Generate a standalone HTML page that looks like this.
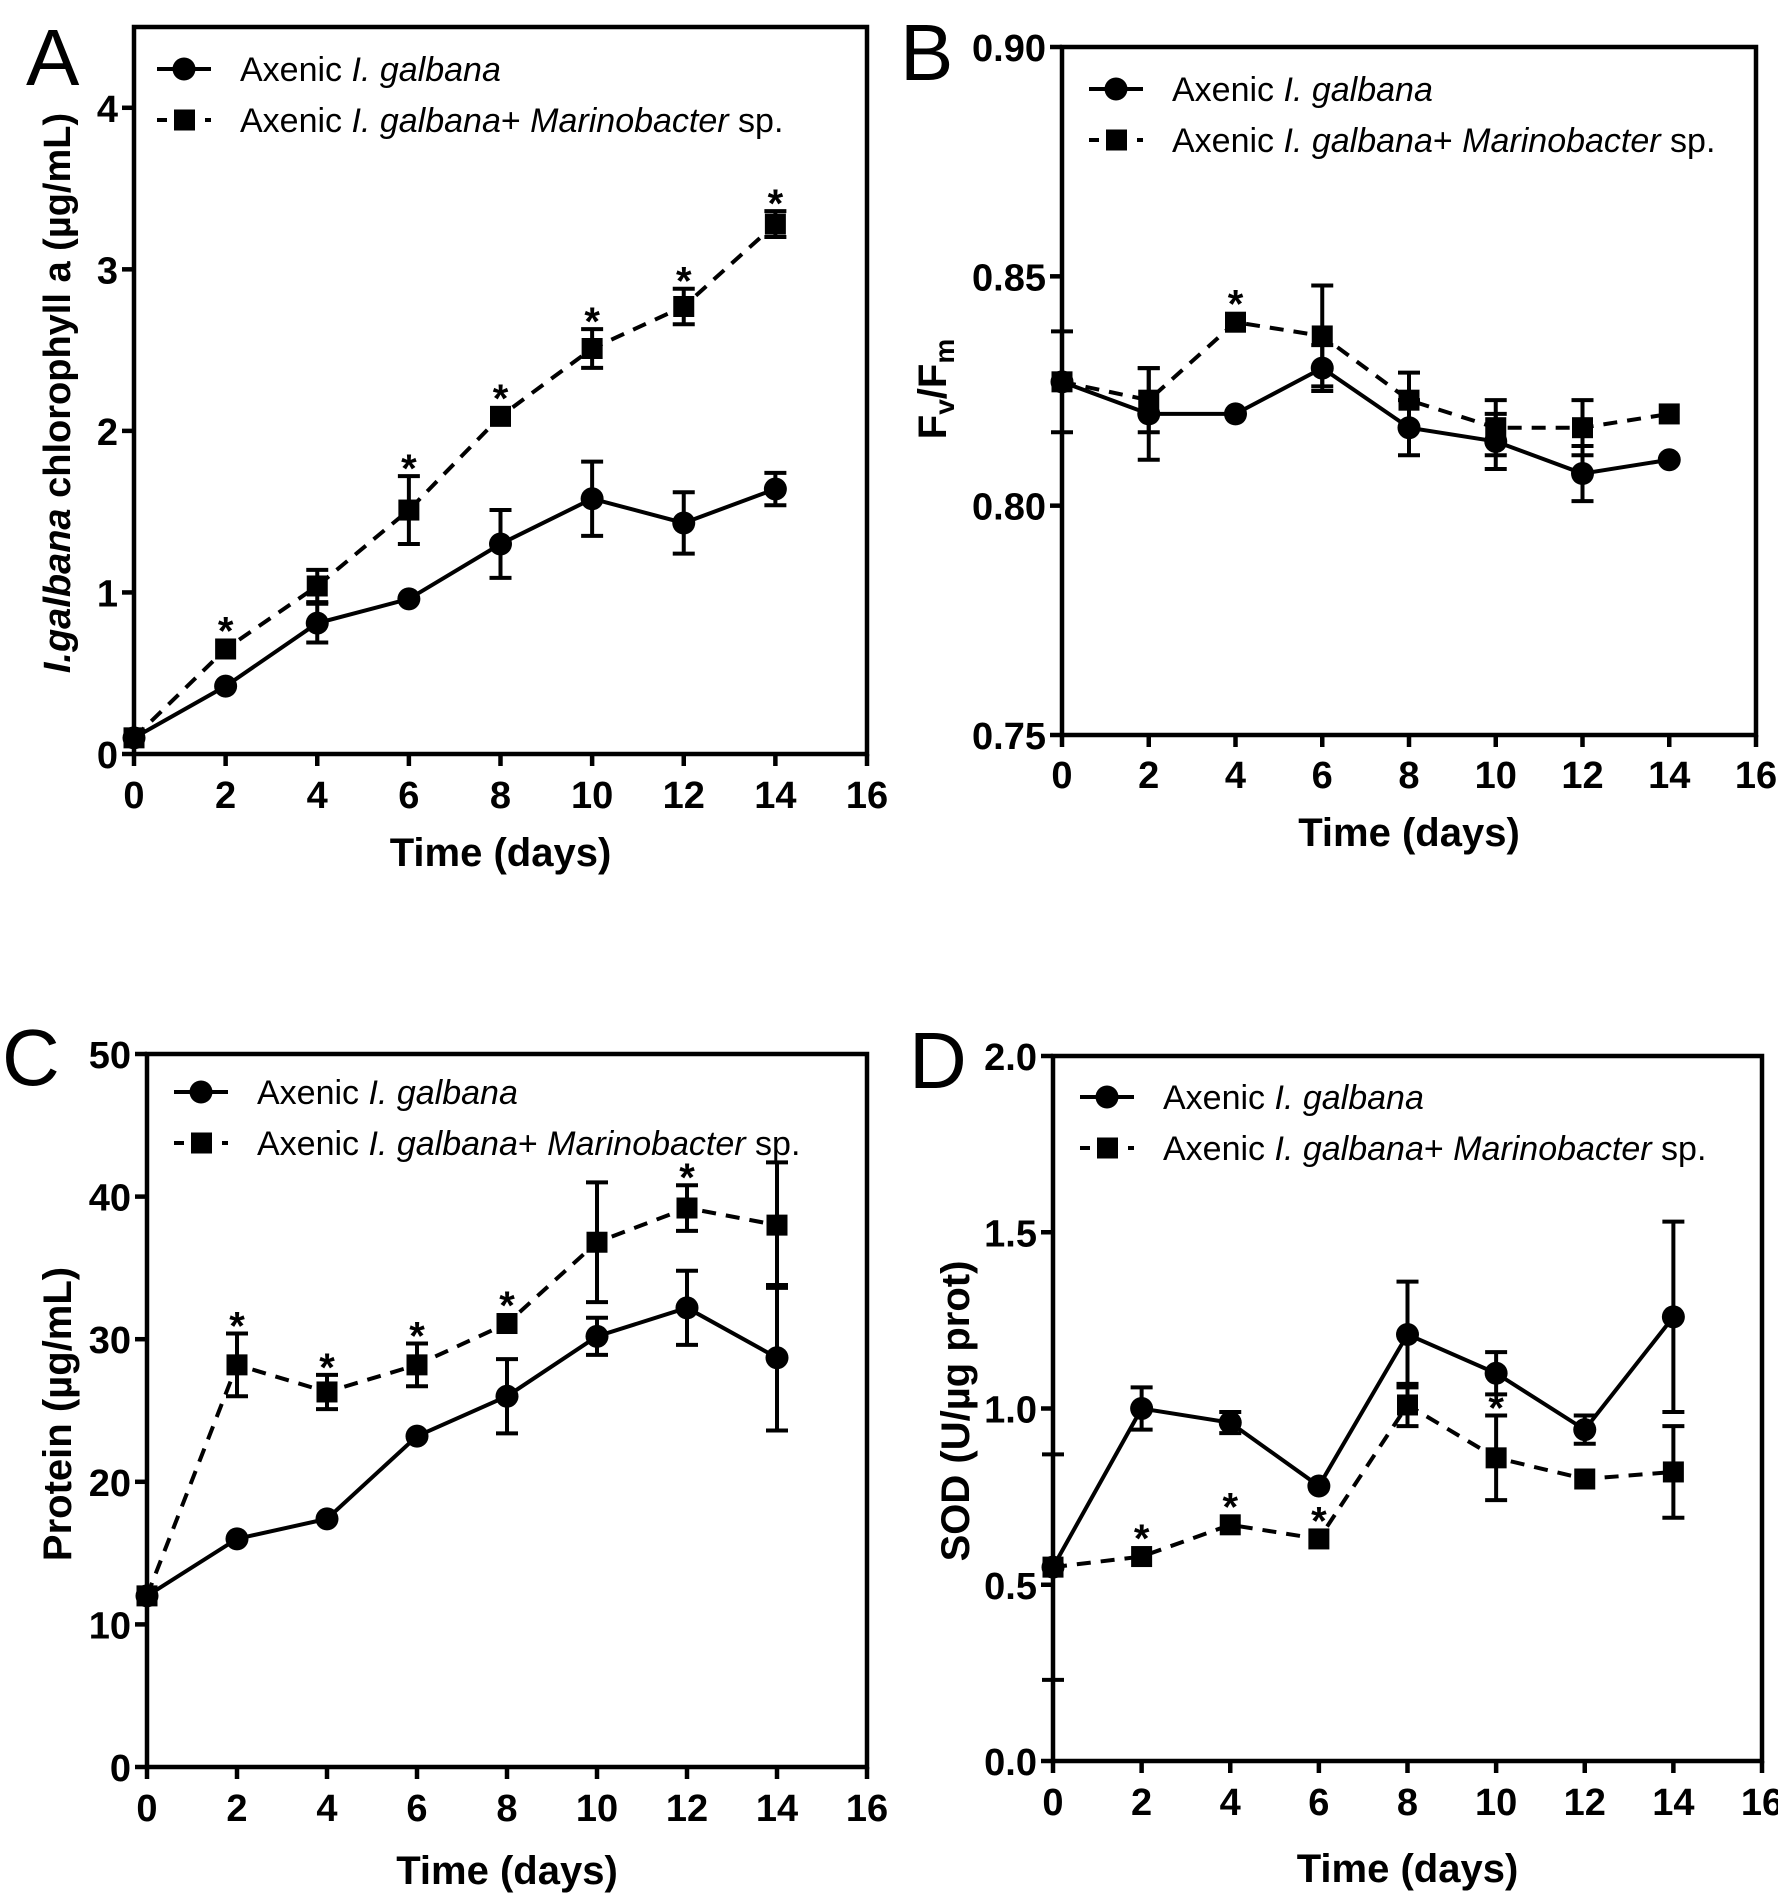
<!DOCTYPE html>
<html><head><meta charset="utf-8"><style>
body{margin:0;background:#fff}
svg{display:block}
text{font-family:"Liberation Sans",Arial,sans-serif;fill:#000}
</style></head><body>
<svg id="fig" width="1778" height="1894" viewBox="0 0 1778 1894" xmlns="http://www.w3.org/2000/svg"></svg>
<script>
const days = [0,2,4,6,8,10,12,14];
const xTicks = [0,2,4,6,8,10,12,14,16];
// Panel A
const aCircle = [0.1,0.42,0.81,0.96,1.30,1.58,1.43,1.64];
const aCircleErr = [0,0,0.12,0,0.21,0.23,0.19,0.1];
const aSquare = [0.1,0.65,1.04,1.51,2.09,2.51,2.77,3.28];
const aSquareErr = [0,0,0.1,0.21,0,0.12,0.11,0.08];
const aStars = [2,6,8,10,12,14];
const aYTicks = [0,1,2,3,4];
// Panel B
const bCircle = [0.827,0.820,0.820,0.830,0.817,0.814,0.807,0.810];
const bCircleErr = [0,0.01,0,0.005,0.006,0.006,0.006,0];
const bSquare = [0.827,0.823,0.840,0.837,0.823,0.817,0.817,0.820];
const bSquareErr = [0.011,0.007,0,0.011,0.006,0.006,0.006,0];
const bStars = [4];
const bYTicks = [0.75,0.80,0.85,0.90];
// Panel C
const cCircle = [12,16,17.4,23.2,26,30.2,32.2,28.7];
const cCircleErr = [0,0,0,0,2.6,1.3,2.6,5.1];
const cSquare = [12,28.2,26.3,28.2,31.1,36.8,39.2,38];
const cSquareErr = [0,2.2,1.2,1.5,0,4.2,1.6,4.4];
const cStars = [2,4,6,8,12];
const cYTicks = [0,10,20,30,40,50];
// Panel D
const dCircle = [0.55,1.0,0.96,0.78,1.21,1.10,0.94,1.26];
const dCircleErr = [0.32,0.06,0.03,0,0.15,0.06,0.04,0.27];
const dSquare = [0.55,0.58,0.67,0.63,1.01,0.86,0.80,0.82];
const dSquareErr = [0,0,0,0,0.06,0.12,0,0.13];
const dStars = [2,4,6,10];
const dYTicks = [0.0,0.5,1.0,1.5,2.0];

const NS="http://www.w3.org/2000/svg";
const svg=document.getElementById('fig');
function mk(tag,attrs,parent,txt){const e=document.createElementNS(NS,tag);for(const k in attrs)e.setAttribute(k,attrs[k]);if(txt!==undefined)e.textContent=txt;(parent||svg).appendChild(e);return e;}

const panels=[
 {id:'a',L:134,R:867,T:27,B:754,ymin:0,ymax:4.5,yt:aYTicks,dec:0,c:aCircle,ce:aCircleErr,s:aSquare,se:aSquareErr,st:aStars,
  letter:'A',lx:26,ly:85,tickY:808,titleY:866,ytx:56,yty:393,legX:157,legY:69,yTitle:'chl'},
 {id:'b',L:1062,R:1756,T:47,B:735,ymin:0.75,ymax:0.90,yt:bYTicks,dec:2,c:bCircle,ce:bCircleErr,s:bSquare,se:bSquareErr,st:bStars,
  letter:'B',lx:900,ly:80,tickY:788,titleY:846,ytx:932,yty:389,legX:1089,legY:89,yTitle:'fvfm'},
 {id:'c',L:147,R:867,T:1054,B:1767,ymin:0,ymax:50,yt:cYTicks,dec:0,c:cCircle,ce:cCircleErr,s:cSquare,se:cSquareErr,st:cStars,
  letter:'C',lx:2,ly:1085,tickY:1821,titleY:1884,ytx:57,yty:1414,legX:174,legY:1092,yTitle:'Protein (µg/mL)'},
 {id:'d',L:1053,R:1762,T:1056,B:1761,ymin:0,ymax:2,yt:dYTicks,dec:1,c:dCircle,ce:dCircleErr,s:dSquare,se:dSquareErr,st:dStars,
  letter:'D',lx:909,ly:1088,tickY:1815,titleY:1882,ytx:955,yty:1411,legX:1080,legY:1097,yTitle:'SOD (U/µg prot)'}
];

panels.forEach(p=>{
 const g=mk('g',{});
 
 
 const X=v=>p.L+(v/16)*(p.R-p.L);
 const Y=v=>p.B-(v-p.ymin)/(p.ymax-p.ymin)*(p.B-p.T);
 const frame=mk('rect',{x:p.L,y:p.T,width:p.R-p.L,height:p.B-p.T,fill:'none',stroke:'#000','stroke-width':4.5},g);
 
 
 const lt=mk('text',{x:p.lx,y:p.ly,'font-size':80},g,p.letter);
 
 
 xTicks.forEach(t=>{
  mk('line',{x1:X(t),x2:X(t),y1:p.B,y2:p.B+12,stroke:'#000','stroke-width':4.5},g);
  const tx=mk('text',{x:X(t),y:p.tickY,'font-size':38,'font-weight':'bold','text-anchor':'middle'},g,String(t));
  
  
 });
 p.yt.forEach(t=>{
  mk('line',{x1:p.L-12,x2:p.L,y1:Y(t),y2:Y(t),stroke:'#000','stroke-width':4.5},g);
  const ty=mk('text',{x:p.L-16,y:Y(t)+14,'font-size':38,'font-weight':'bold','text-anchor':'end'},g,t.toFixed(p.dec));
  
  
 });
 const xt=mk('text',{x:(p.L+p.R)/2,y:p.titleY,'font-size':40,'font-weight':'bold','text-anchor':'middle'},g,'Time (days)');
 
 
 const yt=mk('text',{x:0,y:0,'font-size':p.yTitle==='chl'?38:40,'font-weight':'bold','text-anchor':'middle',transform:`translate(${p.ytx+14},${p.yty}) rotate(-90)`},g);
 
 
 if(p.yTitle==='chl'){
  mk('tspan',{'font-style':'italic'},yt,'I.galbana');
  mk('tspan',{},yt,' chlorophyll a (µg/mL)');
 } else if(p.yTitle==='fvfm'){
  mk('tspan',{},yt,'F');
  mk('tspan',{'font-size':28,dy:8},yt,'v');
  mk('tspan',{dy:-8},yt,'/F');
  mk('tspan',{'font-size':28,dy:8},yt,'m');
 } else yt.textContent=p.yTitle;
 const lineC=days.map((d,i)=>X(d)+','+Y(p.c[i])).join(' ');
 const lineS=days.map((d,i)=>X(d)+','+Y(p.s[i])).join(' ');
 const ls=mk('polyline',{points:lineS,fill:'none',stroke:'#000','stroke-width':4,'stroke-dasharray':'14,10'},g);
 
 
 const lc=mk('polyline',{points:lineC,fill:'none',stroke:'#000','stroke-width':4},g);
 
 
 function err(x,v,e){
  if(!e)return;
  const y1=Y(v+e),y2=Y(v-e);
  mk('line',{x1:x,x2:x,y1:y1,y2:y2,stroke:'#000','stroke-width':4},g);
  mk('line',{x1:x-11,x2:x+11,y1:y1,y2:y1,stroke:'#000','stroke-width':4},g);
  mk('line',{x1:x-11,x2:x+11,y1:y2,y2:y2,stroke:'#000','stroke-width':4},g);
 }
 days.forEach((d,i)=>{
  err(X(d),p.c[i],p.ce[i]);err(X(d),p.s[i],p.se[i]);
  const cc=mk('circle',{cx:X(d),cy:Y(p.c[i]),r:11.5,fill:'#000'},g);
  
  
  const sq=mk('rect',{x:X(d)-10.5,y:Y(p.s[i])-10.5,width:21,height:21,fill:'#000'},g);
  
  
 });
 p.st.forEach(d=>{
  const i=days.indexOf(d);
  const cap=p.se[i]?Y(p.s[i]+p.se[i]):Y(p.s[i])-10.5;
  const s=mk('text',{x:X(d),y:cap+6,'font-size':40,'font-weight':'bold','text-anchor':'middle'},g,'*');
  
  
 });
 const lg=mk('g',{},g);
 
 
 const lx=p.legX,ly=p.legY;
 mk('line',{x1:lx,x2:lx+54,y1:ly,y2:ly,stroke:'#000','stroke-width':4},lg);
 mk('circle',{cx:lx+27,cy:ly,r:11.5,fill:'#000'},lg);
 const t1=mk('text',{x:lx+83,y:ly+12,'font-size':34},lg);
 
 
 mk('tspan',{},t1,'Axenic ');mk('tspan',{'font-style':'italic'},t1,'I. galbana');
 const ly2=ly+51;
 mk('line',{x1:lx,x2:lx+10,y1:ly2,y2:ly2,stroke:'#000','stroke-width':4},lg);
 mk('rect',{x:lx+17,y:ly2-10.5,width:21,height:21,fill:'#000'},lg);
 mk('line',{x1:lx+48,x2:lx+54,y1:ly2,y2:ly2,stroke:'#000','stroke-width':4},lg);
 const t2=mk('text',{x:lx+83,y:ly2+12,'font-size':34},lg);
 
 
 mk('tspan',{},t2,'Axenic ');mk('tspan',{'font-style':'italic'},t2,'I. galbana');mk('tspan',{},t2,'+ ');
 mk('tspan',{'font-style':'italic'},t2,'Marinobacter');mk('tspan',{},t2,' sp.');
});
</script>
</body></html>
